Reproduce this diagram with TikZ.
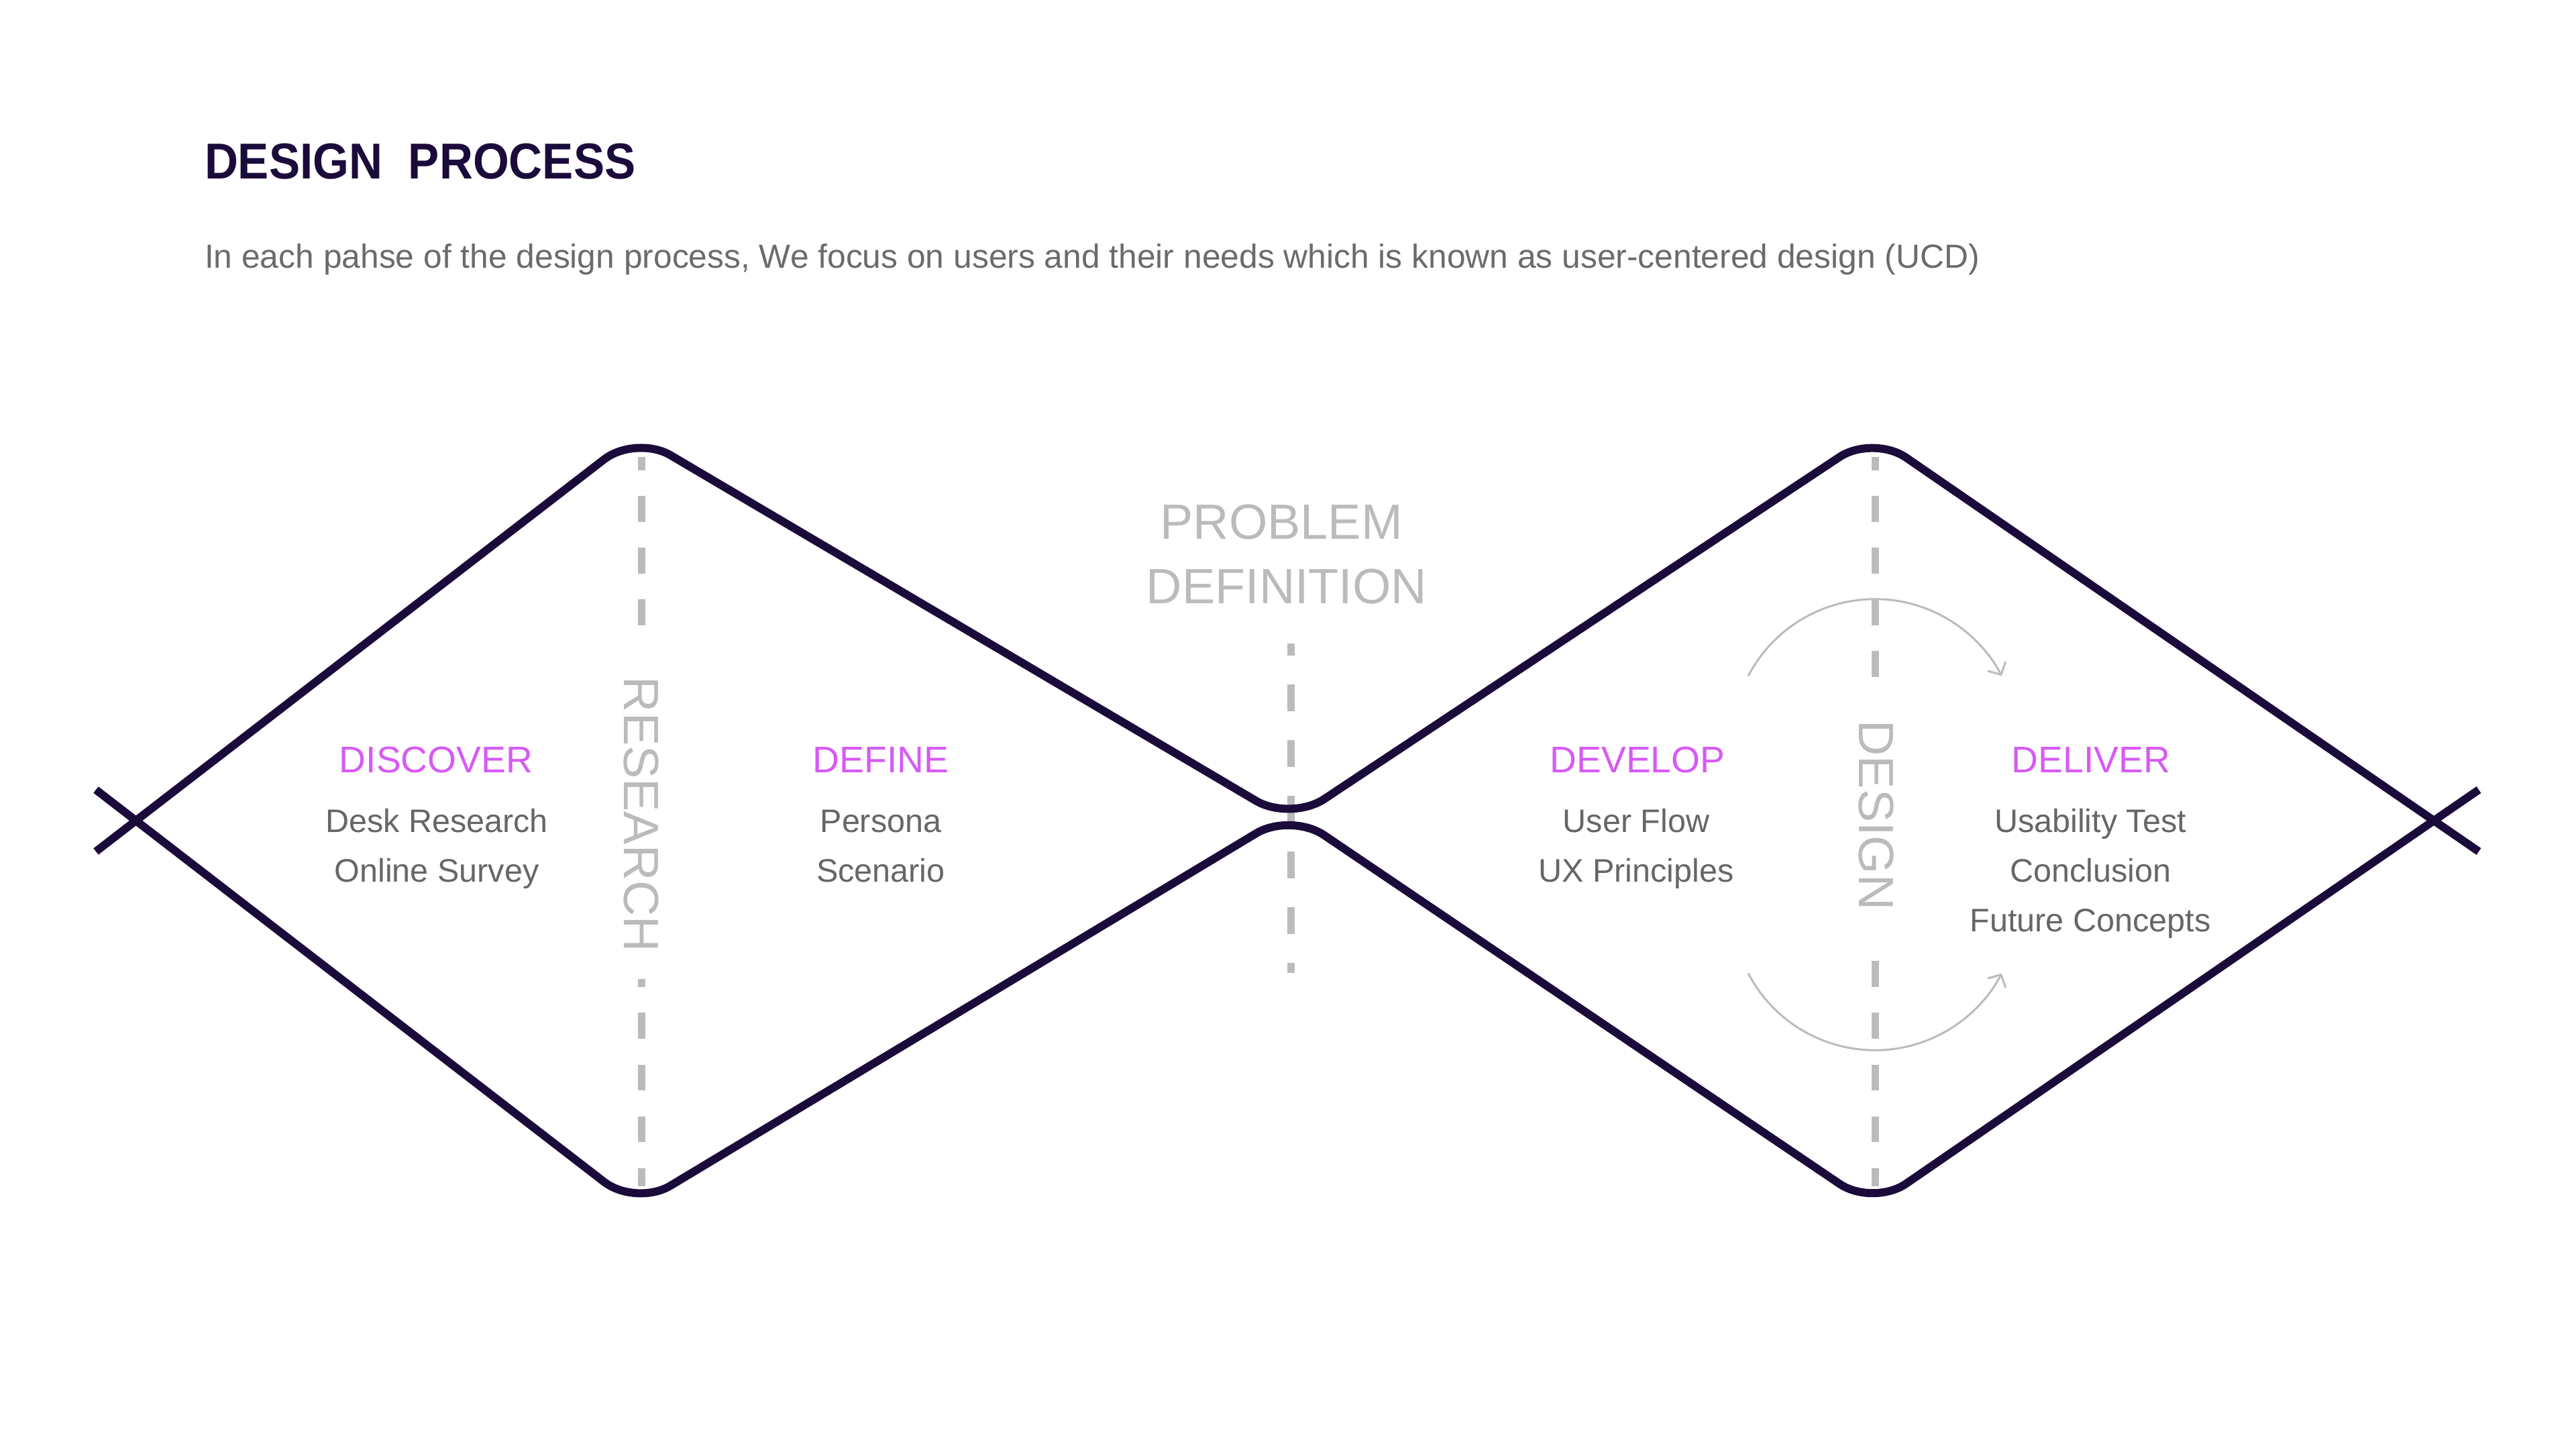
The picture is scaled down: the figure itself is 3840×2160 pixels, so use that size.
\documentclass[tikz,border=0pt]{standalone}
\usepackage{fontspec}
\setmainfont{Liberation Sans}
\usepackage{graphicx}
\usetikzlibrary{arrows.meta,calc}
\definecolor{navy}{HTML}{1B0B3B}
\definecolor{lblgray}{HTML}{BBBBBB}
\definecolor{txtgray}{HTML}{666666}
\definecolor{subgray}{HTML}{6B6B6B}
\definecolor{phasecol}{HTML}{D65AF5}
\begin{document}
\begin{tikzpicture}[x=0.01cm,y=-0.01cm,
  every node/.style={inner sep=0pt,outer sep=0pt},
  mainline/.style={draw=navy,line width=0.12cm,rounded corners=0.6cm},
  guideline/.style={draw=lblgray,line width=0.11cm,dash pattern=on 0.385cm off 0.385cm},
  cyclearc/.style={draw=lblgray,line width=0.03cm,-{Straight Barb[length=0.14cm,width=0.3cm]}},
  phasehead/.style={anchor=base,text=phasecol,font=\fontsize{15.7pt}{18pt}\selectfont},
  itemtext/.style={anchor=base,text=txtgray,font=\fontsize{13.8pt}{16pt}\selectfont},
  biglabel/.style={text=lblgray,font=\fontsize{21pt}{24pt}\selectfont},
  vlabel/.style={biglabel,rotate=-90,fill=white,inner xsep=0.4cm,inner ysep=0.05cm}
]
\fill[white] (0,0) rectangle (3840,2160);
\useasboundingbox (0,0) rectangle (3840,2160);

% title and subtitle
\node[anchor=base west,text=navy,font=\bfseries\fontsize{21.4pt}{25pt}\selectfont] (title) at (305,266) {\scalebox{0.92}[1]{DESIGN\ \ PROCESS}};
\node[anchor=base west,text=subgray,font=\fontsize{14.15pt}{17pt}\selectfont] (subtitle) at (305,399) {In each pahse of the design process, We focus on users and their needs which is known as user-centered design (UCD)};

% guide lines (dashed)
\coordinate (r1) at (956,681);
\coordinate (r2) at (956,1768);
\coordinate (d1) at (2795,681);
\coordinate (d2) at (2795,1768);
\coordinate (p1) at (1924,959);
\coordinate (p2) at (1924,1450);
\draw[guideline,dash phase=0.19cm] (r1) -- (r2);
\draw[guideline,dash phase=0.19cm] (d1) -- (d2);
\draw[guideline,dash pattern=on 0.4cm off 0.43cm,dash phase=0.22cm] (p1) -- (p2);

\node[vlabel] (research) at (956,1214) {RESEARCH};
\node[vlabel] (design) at (2797,1215) {DESIGN};

% iteration arcs
\coordinate (ca1) at (2795,1106);
\coordinate (ca2) at (2795,1352);
\draw[cyclearc] ([shift={(152.4:2.13cm)}]ca1) arc[start angle=152.4,end angle=27.6,radius=2.13cm];
\draw[cyclearc] ([shift={(-152.4:2.13cm)}]ca2) arc[start angle=-152.4,end angle=-27.6,radius=2.13cm];

% double diamond
\coordinate (A0) at (143,1269);
\coordinate (T1) at (948,648);
\coordinate (MA) at (1924,1224);
\coordinate (T2) at (2792,648);
\coordinate (A5) at (3695,1269);
\coordinate (B0) at (143,1177);
\coordinate (B1) at (948,1798);
\coordinate (MB) at (1924,1211);
\coordinate (B2) at (2792,1798);
\coordinate (B5) at (3695,1177);
\draw[mainline] (A0) -- (T1) -- (MA) -- (T2) -- (A5);
\draw[mainline] (B0) -- (B1) -- (MB) -- (B2) -- (B5);

% problem definition
\node[biglabel,anchor=base] (prob) at (1910,803) {PROBLEM};
\node[biglabel,anchor=base] (defn) at (1918,899) {DEFINITION};

% phases
\node[phasehead] (disc) at (650,1151) {DISCOVER};
\node[phasehead] (defi) at (1313,1151) {DEFINE};
\node[phasehead] (deve) at (2441,1151) {DEVELOP};
\node[phasehead] (deli) at (3117,1151) {DELIVER};

\node[itemtext] (i11) at (651,1240) {Desk Research};
\node[itemtext] (i12) at (651,1314) {Online Survey};
\node[itemtext] (i21) at (1313,1240) {Persona};
\node[itemtext] (i22) at (1313,1314) {Scenario};
\node[itemtext] (i31) at (2439,1240) {User Flow};
\node[itemtext] (i32) at (2439,1314) {UX Principles};
\node[itemtext] (i41) at (3116,1240) {Usability Test};
\node[itemtext] (i42) at (3116,1314) {Conclusion};
\node[itemtext] (i43) at (3116,1388) {Future Concepts};
\end{tikzpicture}
\end{document}
